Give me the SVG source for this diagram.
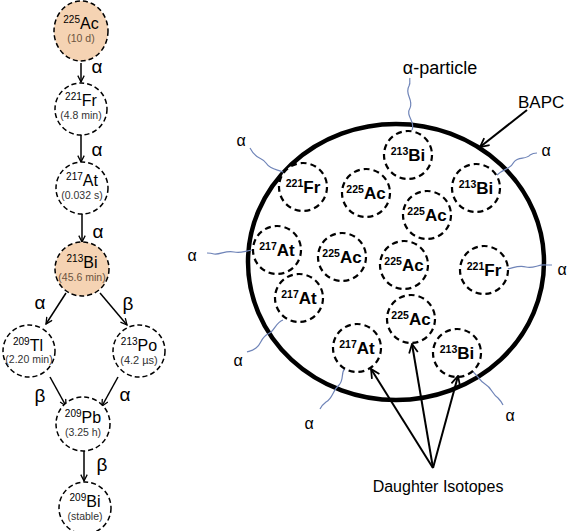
<svg xmlns="http://www.w3.org/2000/svg" width="567" height="531" viewBox="0 0 567 531">
<defs>
<marker id="ah" viewBox="0 0 10 10" refX="9" refY="5" markerWidth="8" markerHeight="8" orient="auto" markerUnits="userSpaceOnUse">
<path d="M1,1 L9,5 L1,9" fill="none" stroke="#000" stroke-width="1.6"/>
</marker>
<marker id="ah2" viewBox="0 0 10 10" refX="9" refY="5" markerWidth="11" markerHeight="11" orient="auto" markerUnits="userSpaceOnUse">
<path d="M1,1 L9,5 L1,9" fill="none" stroke="#000" stroke-width="1.6"/>
</marker>
</defs>
<style>
.lc{fill:#fff;stroke:#000;stroke-width:1.5;stroke-dasharray:5 3}
.pe{fill:#F5D3B3}
.sym{font-family:"Liberation Sans",Arial,sans-serif;font-size:16px;fill:#000;text-anchor:middle}
.sup{font-size:10px}
.hl{font-family:"Liberation Sans",Arial,sans-serif;font-size:10.5px;fill:#333;text-anchor:middle}
.br{fill:#6b5440}
.gl{font-family:"Liberation Sans",Arial,sans-serif;font-size:19px;fill:#000;text-anchor:middle}
.ar{stroke:#000;stroke-width:1.5;fill:none;marker-end:url(#ah)}
.rc{fill:#fff;stroke:#000;stroke-width:2.2;stroke-dasharray:6 4}
.rs{font-family:"Liberation Sans",Arial,sans-serif;font-weight:bold;font-size:17px;fill:#000;text-anchor:middle}
.rsup{font-size:10.5px}
.wv{fill:none;stroke:#6f84b8;stroke-width:1.2}
.lb{font-family:"Liberation Sans",Arial,sans-serif;font-size:16px;fill:#000}
.da{stroke:#000;stroke-width:2;fill:none;marker-end:url(#ah2)}
</style>

<!-- Left decay chain -->
<g id="chain-connectors">
<line class="ar" x1="81" y1="63" x2="81" y2="82"/>
<line class="ar" x1="81" y1="135" x2="81" y2="162"/>
<line class="ar" x1="82" y1="214" x2="82" y2="242"/>
<line class="ar" x1="66" y1="293" x2="46" y2="324"/>
<line class="ar" x1="100" y1="293" x2="127" y2="325"/>
<line class="ar" x1="50" y1="377" x2="66" y2="406"/>
<line class="ar" x1="118" y1="377" x2="102" y2="406"/>
<line class="ar" x1="84" y1="451" x2="84" y2="481"/>
<text class="gl" x="97" y="73">α</text>
<text class="gl" x="97" y="156">α</text>
<text class="gl" x="98" y="238">α</text>
<text class="gl" x="40" y="309">α</text>
<text class="gl" x="128" y="310">β</text>
<text class="gl" x="40" y="402">β</text>
<text class="gl" x="125" y="401">α</text>
<text class="gl" x="102" y="471">β</text>
</g>

<g id="n-ac225">
<ellipse class="lc pe" cx="81" cy="31" rx="27" ry="30"/>
<text class="sym" x="81" y="29"><tspan class="sup" dy="-6">225</tspan><tspan dy="6">Ac</tspan></text>
<text class="hl br" x="81" y="42">(10 d)</text>
</g>
<g id="n-fr221">
<circle class="lc" cx="81" cy="109" r="26"/>
<text class="sym" x="81" y="106"><tspan class="sup" dy="-6">221</tspan><tspan dy="6">Fr</tspan></text>
<text class="hl" x="81" y="119">(4.8 min)</text>
</g>
<g id="n-at217">
<circle class="lc" cx="82" cy="188" r="26"/>
<text class="sym" x="82" y="186"><tspan class="sup" dy="-6">217</tspan><tspan dy="6">At</tspan></text>
<text class="hl" x="82" y="199">(0.032 s)</text>
</g>
<g id="n-bi213">
<ellipse class="lc pe" cx="82" cy="269" rx="27" ry="27"/>
<text class="sym" x="82" y="268"><tspan class="sup" dy="-6">213</tspan><tspan dy="6">Bi</tspan></text>
<text class="hl br" x="82" y="281">(45.6 min)</text>
</g>
<g id="n-tl209">
<circle class="lc" cx="29" cy="351" r="26"/>
<text class="sym" x="28" y="351"><tspan class="sup" dy="-6">209</tspan><tspan dy="6">Tl</tspan></text>
<text class="hl" x="29" y="363">(2.20 min)</text>
</g>
<g id="n-po213">
<circle class="lc" cx="139" cy="351" r="26"/>
<text class="sym" x="139" y="351"><tspan class="sup" dy="-6">213</tspan><tspan dy="6">Po</tspan></text>
<text class="hl" x="139" y="364" style="font-size:11px">(4.2 µs)</text>
</g>
<g id="n-pb209">
<circle class="lc" cx="83" cy="424" r="27"/>
<text class="sym" x="83" y="423"><tspan class="sup" dy="-6">209</tspan><tspan dy="6">Pb</tspan></text>
<text class="hl" x="83" y="436">(3.25 h)</text>
</g>
<g id="n-bi209">
<circle class="lc" cx="85" cy="508" r="26"/>
<text class="sym" x="85" y="507"><tspan class="sup" dy="-6">209</tspan><tspan dy="6">Bi</tspan></text>
<text class="hl" x="85" y="520">(stable)</text>
</g>

<!-- Right: BAPC -->
<g id="bapc">
<ellipse cx="396" cy="262" rx="148" ry="138" fill="none" stroke="#000" stroke-width="4.5"/>
</g>

<g id="particles">
<path class="wv" d="M412,130 C416,122 405,116 410,108 C414,100 404,94 409,86 C411,82 409,80 410,78"/>
<path class="wv" d="M288,175 C280,168 272,172 266,163 C262,157 256,160 250,148"/>
<path class="wv" d="M497,175 C504,168 510,170 514,162 C518,156 526,160 530,155 C533,153 535,153 537,153"/>
<path class="wv" d="M255,250 C246,250 242,254 234,252 C226,250 220,255 214,254 C211,253 209,253 207,253"/>
<path class="wv" d="M283,320 C275,323 275,331 268,334 C260,338 262,344 256,348 C252,351 250,351 247,352"/>
<path class="wv" d="M345,368 C340,374 345,380 338,386 C332,392 333,398 326,402 C322,405 321,407 320,409"/>
<path class="wv" d="M507,269 C514,268 518,265 526,267 C534,269 538,264 546,265 C549,265 550,265 552,265"/>
<path class="wv" d="M470,370 C477,373 478,380 485,384 C492,388 492,394 498,398 C501,401 502,403 503,405"/>
</g>

<g id="r1"><circle class="rc" cx="408" cy="155" r="24"/><text class="rs" x="408" y="161"><tspan class="rsup" dy="-6">213</tspan><tspan dy="6">Bi</tspan></text></g>
<g id="r2"><circle class="rc" cx="303" cy="187" r="24"/><text class="rs" x="303" y="193"><tspan class="rsup" dy="-6">221</tspan><tspan dy="6">Fr</tspan></text></g>
<g id="r3"><circle class="rc" cx="366" cy="193" r="24"/><text class="rs" x="366" y="199"><tspan class="rsup" dy="-6">225</tspan><tspan dy="6">Ac</tspan></text></g>
<g id="r4"><circle class="rc" cx="476" cy="188" r="24"/><text class="rs" x="476" y="194"><tspan class="rsup" dy="-6">213</tspan><tspan dy="6">Bi</tspan></text></g>
<g id="r5"><circle class="rc" cx="427" cy="215" r="24"/><text class="rs" x="427" y="221"><tspan class="rsup" dy="-6">225</tspan><tspan dy="6">Ac</tspan></text></g>
<g id="r6"><circle class="rc" cx="277" cy="250" r="24"/><text class="rs" x="277" y="256"><tspan class="rsup" dy="-6">217</tspan><tspan dy="6">At</tspan></text></g>
<g id="r7"><circle class="rc" cx="342" cy="257" r="24"/><text class="rs" x="342" y="263"><tspan class="rsup" dy="-6">225</tspan><tspan dy="6">Ac</tspan></text></g>
<g id="r8"><circle class="rc" cx="404" cy="265" r="24"/><text class="rs" x="404" y="271"><tspan class="rsup" dy="-6">225</tspan><tspan dy="6">Ac</tspan></text></g>
<g id="r9"><circle class="rc" cx="484" cy="270" r="24"/><text class="rs" x="484" y="276"><tspan class="rsup" dy="-6">221</tspan><tspan dy="6">Fr</tspan></text></g>
<g id="r10"><circle class="rc" cx="299" cy="298" r="24"/><text class="rs" x="299" y="304"><tspan class="rsup" dy="-6">217</tspan><tspan dy="6">At</tspan></text></g>
<g id="r11"><circle class="rc" cx="411" cy="319" r="24"/><text class="rs" x="411" y="325"><tspan class="rsup" dy="-6">225</tspan><tspan dy="6">Ac</tspan></text></g>
<g id="r12"><circle class="rc" cx="357" cy="348" r="24"/><text class="rs" x="357" y="354"><tspan class="rsup" dy="-6">217</tspan><tspan dy="6">At</tspan></text></g>
<g id="r13"><circle class="rc" cx="457" cy="353" r="24"/><text class="rs" x="457" y="359"><tspan class="rsup" dy="-6">213</tspan><tspan dy="6">Bi</tspan></text></g>

<g id="connectors">
<line class="da" x1="527" y1="110" x2="480" y2="147"/>
<line class="da" x1="433" y1="468" x2="371" y2="369"/>
<line class="da" x1="433" y1="468" x2="412" y2="344"/>
<line class="da" x1="433" y1="468" x2="458" y2="376"/>
</g>

<g id="labels">
<text class="lb" x="440" y="74" text-anchor="middle" style="font-size:18px">α-particle</text>
<text class="lb" x="518" y="108" style="font-size:17px">BAPC</text>
<text class="lb" x="438" y="492" text-anchor="middle">Daughter Isotopes</text>
<text class="lb" x="241" y="146" text-anchor="middle">α</text>
<text class="lb" x="546" y="156" text-anchor="middle">α</text>
<text class="lb" x="192" y="261" text-anchor="middle">α</text>
<text class="lb" x="238" y="366" text-anchor="middle">α</text>
<text class="lb" x="309" y="429" text-anchor="middle">α</text>
<text class="lb" x="562" y="275" text-anchor="middle">α</text>
<text class="lb" x="510" y="421" text-anchor="middle">α</text>
</g>
</svg>
